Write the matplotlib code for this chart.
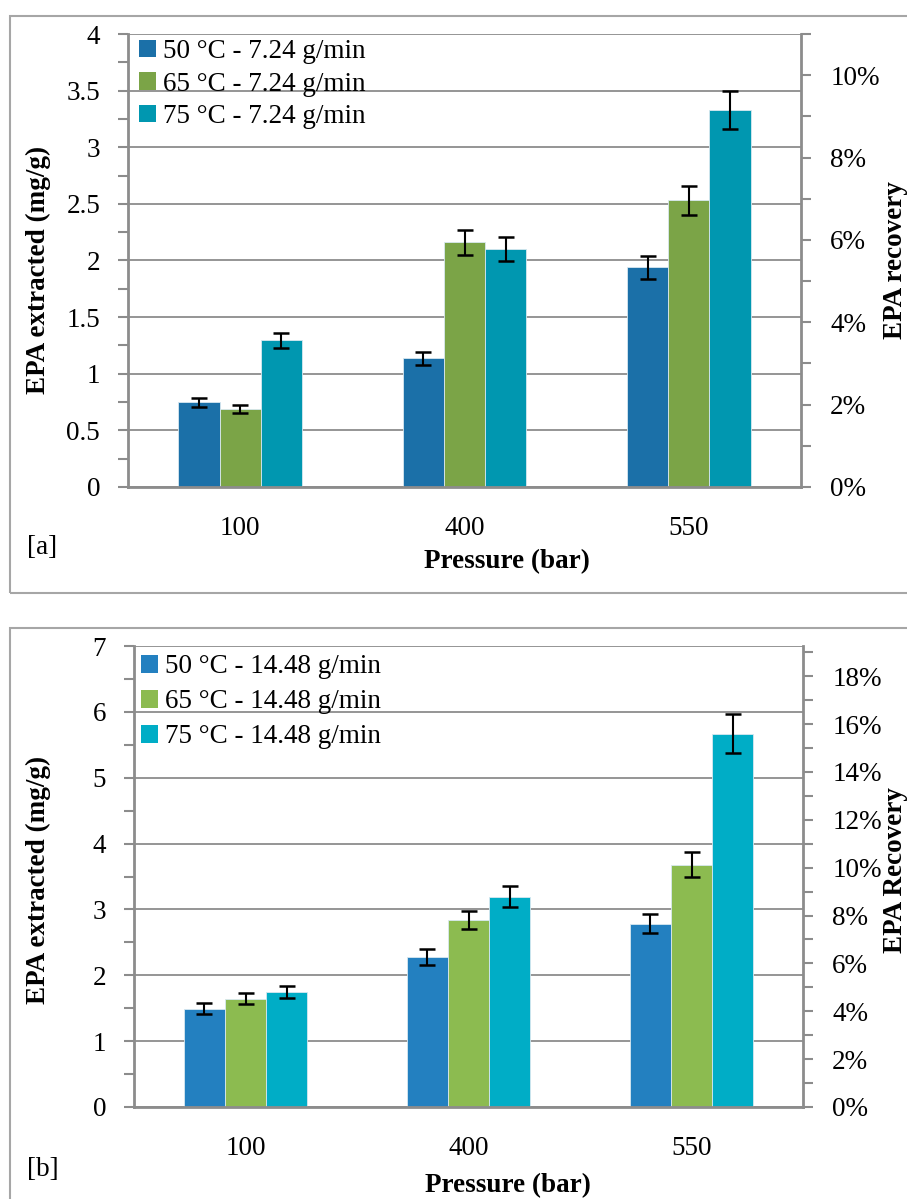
import numpy as np
import matplotlib
matplotlib.use("Agg")
import matplotlib.pyplot as plt
from matplotlib.patches import Rectangle, Patch
from matplotlib.ticker import MultipleLocator, FuncFormatter

plt.rcParams['font.family'] = ['Liberation Serif', 'DejaVu Serif']

# ---------------- data ----------------
categories = ['100', '400', '550']

a_labels = ['50 °C - 7.24 g/min', '65 °C - 7.24 g/min', '75 °C - 7.24 g/min']
a_50 = [0.75, 1.135, 1.94]
a_65 = [0.69, 2.16, 2.53]
a_75 = [1.295, 2.10, 3.33]
a_50_err = [0.04, 0.06, 0.10]
a_65_err = [0.037, 0.11, 0.13]
a_75_err = [0.066, 0.107, 0.168]

b_labels = ['50 °C - 14.48 g/min', '65 °C - 14.48 g/min', '75 °C - 14.48 g/min']
b_50 = [1.495, 2.28, 2.78]
b_65 = [1.645, 2.84, 3.68]
b_75 = [1.745, 3.19, 5.67]
b_50_err = [0.08, 0.12, 0.145]
b_65_err = [0.085, 0.14, 0.19]
b_75_err = [0.09, 0.16, 0.29]

a_colors = ['#1b70a8', '#7ba447', '#0097b0']
b_colors = ['#2380c0', '#8cbb50', '#00adc6']

W, H = 907, 1199
fig = plt.figure(figsize=(W / 100, H / 100), dpi=100)

FS = 19.5
GRAY = '#8c8c8c'


def px_axes(l, t, r, b):
    return fig.add_axes([l / W, 1 - b / H, (r - l) / W, (b - t) / H])


def panel(ax, series, errs, colors, labels, ymax, ymajor, yminor, rmax, rmajor, rminor,
          leg_x, leg_y, leg_sp):
    x = np.arange(len(categories))
    bw = 0.184
    for i, (vals, e, c, lab) in enumerate(zip(series, errs, colors, labels)):
        ax.bar(x + (i - 1) * bw, vals, width=bw, color=c, edgecolor='#d8e8f0',
               linewidth=0.6, label=lab, zorder=2)
        ax.errorbar(x + (i - 1) * bw, vals, yerr=e, fmt='none', ecolor='black',
                    elinewidth=1.5, capsize=5.5, capthick=1.8, zorder=3)
    ax.set_xlim(-0.5, len(categories) - 0.5)
    ax.set_ylim(0, ymax)
    ax.set_xticks(x)
    ax.set_xticklabels(categories, fontsize=FS)
    ax.tick_params(axis='x', length=0, pad=21)
    ax.yaxis.set_major_locator(MultipleLocator(ymajor))
    ax.yaxis.set_minor_locator(MultipleLocator(yminor))
    ax.yaxis.set_major_formatter(FuncFormatter(lambda v, p: f'{v:g}'))
    ax.tick_params(axis='y', which='both', direction='out', length=7, width=1.5,
                   color=GRAY, labelsize=FS, pad=13)
    ax.grid(axis='y', which='major', color=GRAY, linewidth=1.3, zorder=0)
    ax.set_axisbelow(True)
    for s in ['top', 'right']:
        ax.spines[s].set_visible(False)
    for s in ['left', 'bottom']:
        ax.spines[s].set_color(GRAY)
        ax.spines[s].set_linewidth(2)

    ax2 = ax.twinx()
    ax2.set_ylim(0, rmax)
    ax2.yaxis.set_major_locator(MultipleLocator(rmajor))
    ax2.yaxis.set_minor_locator(MultipleLocator(rminor))
    ax2.yaxis.set_major_formatter(FuncFormatter(lambda v, p: f'{v * 100:.0f}%'))
    ax2.tick_params(axis='y', which='both', direction='out', length=7, width=1.5,
                    color=GRAY, labelsize=FS, pad=14)
    for s in ['top', 'left', 'bottom']:
        ax2.spines[s].set_visible(False)
    ax2.spines['right'].set_color(GRAY)
    ax2.spines['right'].set_linewidth(2)

    handles = [Patch(facecolor=c, edgecolor='none') for c in colors]
    ax.legend(handles, labels, loc='upper left', bbox_to_anchor=(leg_x, leg_y),
              frameon=False, fontsize=FS, handlelength=0.63, handleheight=0.63,
              handletextpad=0.25, labelspacing=leg_sp, borderpad=0.1,
              borderaxespad=0)
    return ax2


# -------- frames --------
fig.patches.append(Rectangle((10 / W, 1 - 593 / H), 1.0, (593 - 16) / H,
                             transform=fig.transFigure, fill=False,
                             edgecolor='#a6a6a6', linewidth=1.5))
fig.patches.append(Rectangle((10 / W, 1 - 1230 / H), 1.0, (1230 - 628) / H,
                             transform=fig.transFigure, fill=False,
                             edgecolor='#a6a6a6', linewidth=1.5))

# -------- panel a --------
axa = px_axes(128, 34, 801, 487)
panel(axa, [a_50, a_65, a_75], [a_50_err, a_65_err, a_75_err], a_colors, a_labels,
      4, 0.5, 0.25, 0.11, 0.02, 0.01, 0.012, 0.995, 0.28)
fig.text(38 / W, 1 - 270 / H, 'EPA extracted (mg/g)', rotation=90, ha='center',
         va='center', fontsize=FS, fontweight='bold')
fig.text(896 / W, 1 - 260 / H, 'EPA recovery', rotation=90, ha='center',
         va='center', fontsize=FS, fontweight='bold')
fig.text(507 / W, 1 - 562 / H, 'Pressure (bar)', ha='center', va='center',
         fontsize=FS, fontweight='bold')
fig.text(27 / W, 1 - 547 / H, '[a]', ha='left', va='center', fontsize=FS)

# -------- panel b --------
axb = px_axes(134, 646, 803, 1107)
panel(axb, [b_50, b_65, b_75], [b_50_err, b_65_err, b_75_err], b_colors, b_labels,
      7, 1, 0.5, 0.1926, 0.02, 0.01, 0.006, 0.988, 0.37)
fig.text(38 / W, 1 - 880 / H, 'EPA extracted (mg/g)', rotation=90, ha='center',
         va='center', fontsize=FS, fontweight='bold')
fig.text(896 / W, 1 - 870 / H, 'EPA Recovery', rotation=90, ha='center',
         va='center', fontsize=FS, fontweight='bold')
fig.text(508 / W, 1 - 1186 / H, 'Pressure (bar)', ha='center', va='center',
         fontsize=FS, fontweight='bold')
fig.text(27 / W, 1 - 1170 / H, '[b]', ha='left', va='center', fontsize=FS)

fig.savefig('out.png', dpi=100)
